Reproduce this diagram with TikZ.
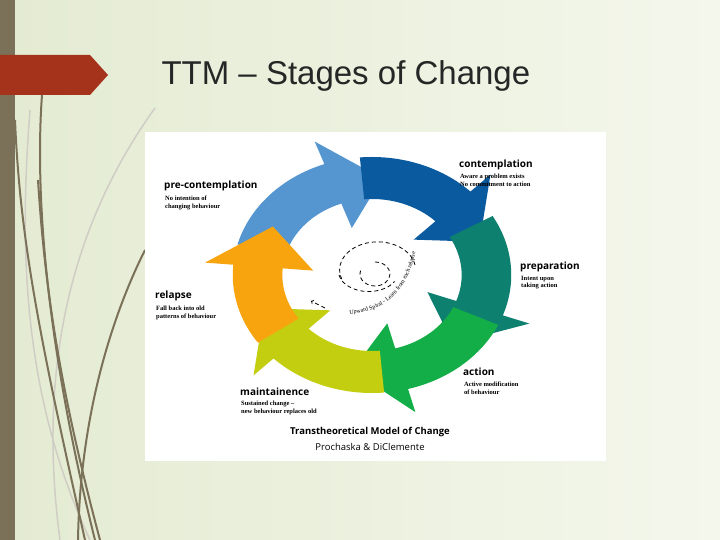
\documentclass[tikz,border=0pt]{standalone}
\usepackage{fontspec}
\setmainfont{Liberation Sans}
\newfontfamily\lab{Open Sans}
\newfontfamily\sub{Liberation Serif}
\usetikzlibrary{decorations.text}
\definecolor{bgA}{HTML}{E4EBD2}
\definecolor{bgB}{HTML}{F4F7EC}
\definecolor{barc}{HTML}{7A7158}
\definecolor{redc}{HTML}{A5321A}
\definecolor{cA}{HTML}{5596D0}
\definecolor{cB}{HTML}{0A5AA0}
\definecolor{cC}{HTML}{0E8070}
\definecolor{cD}{HTML}{14AE48}
\definecolor{cE}{HTML}{C4CE10}
\definecolor{cF}{HTML}{F7A40E}
\newcommand{\ringarrow}[4]{%
  \fill[#1] (#2:118) arc[start angle=#2,end angle=#3,radius=118] -- (#3:142) -- (#4:97) -- (#3:50) -- (#3:76) arc[start angle=#3,end angle=#2,radius=76] -- cycle;}
\tikzset{head/.style={font=\lab\bfseries\fontsize{10}{11}\selectfont,anchor=north west,inner sep=0pt},
 subt/.style={font=\sub\bfseries\fontsize{6.5}{7.5}\selectfont,anchor=north west,inner sep=0pt,align=left},
 grass/.style={draw=barc,line width=2pt},
 lgrass/.style={draw=barc!35,line width=1.5pt}}
\begin{document}
\begin{tikzpicture}[x=1pt,y=1pt]
\useasboundingbox (0,0) rectangle (720,540);
\shade[left color=bgA,right color=bgB] (0,0) rectangle (720,540);
\fill[barc] (0,0) rectangle (15,540);
% grass
\path[lgrass] (60,0) .. controls (40,150) and (60,300) .. (155,432);
\path[lgrass] (90,0) .. controls (20,150) and (20,300) .. (30,430);
\path[grass] (85,0) .. controls (40,200) and (20,300) .. (15,420);
\path[grass] (95,0) .. controls (45,200) and (35,350) .. (42,445);
\path[grass] (78,0) .. controls (80,120) and (110,220) .. (145,290);
\path[grass] (100,0) .. controls (60,150) and (45,250) .. (38,360);
% banner
\fill[redc] (0,485) -- (90,485) -- (108,465) -- (90,445) -- (0,445) -- cycle;
\node[anchor=west,font=\fontsize{33}{36}\selectfont,text=black!85] (title) at (158,464) {TTM – Stages of Change};
% white image
\fill[white] (145,79) rectangle (606,408);
\begin{scope}[shift={(372,265)},xscale=1.18]
\ringarrow{cA}{165}{110}{85}
\ringarrow{cB}{95}{45}{20}
\ringarrow{cC}{30}{-20}{-45}
\ringarrow{cD}{-25}{-75}{-100}
\ringarrow{cE}{-85}{-135}{-160}
\ringarrow{cF}{-145}{-185}{-210}
\end{scope}
% spiral
\begin{scope}[shift={(375,270)},dash pattern=on 4pt off 3pt,line width=0.8pt]
\draw (40,5) arc[start angle=10,end angle=200,x radius=38,y radius=28] ;
\draw (-36,-5) arc[start angle=190,end angle=330,x radius=30,y radius=20];
\draw (0,8) arc[start angle=90,end angle=-200,x radius=15,y radius=12];
\draw[->] (-50,-38) -- (-64,-31);
\end{scope}
\path[decorate,decoration={text along path,text={|\sub\fontsize{6}{6}\selectfont|Upward Spiral - Learn from each relapse},text align=center}]
  (332,226) .. controls (385,222) and (413,250) .. (418,305);
% labels
\node[head] (pc) at (164,359) {pre-contemplation};
\node[subt] (pcs) at (165,344) {No intention of\\changing behaviour};
\node[head] (co) at (459,380) {contemplation};
\node[subt] (cos) at (460,366) {Aware a problem exists\\No commitment to action};
\node[head] (pr) at (520,278) {preparation};
\node[subt] (prs) at (521,264) {Intent upon\\taking action};
\node[head] (re) at (155,249) {relapse};
\node[subt] (res) at (156,234) {Fall back into old\\patterns of behaviour};
\node[head] (ac) at (463,172) {action};
\node[subt] (acs) at (464,158) {Active modification\\of behaviour};
\node[head] (ma) at (240,152) {maintainence};
\node[subt] (mas) at (241,139) {Sustained change –\\new behaviour replaces old};
\node[font=\lab\bfseries\fontsize{9.5}{10}\selectfont] (t1) at (370,108) {Transtheoretical Model of Change};
\node[font=\lab\fontsize{9.5}{10}\selectfont] (t2) at (370,93) {Prochaska \& DiClemente};
\end{tikzpicture}
\end{document}
